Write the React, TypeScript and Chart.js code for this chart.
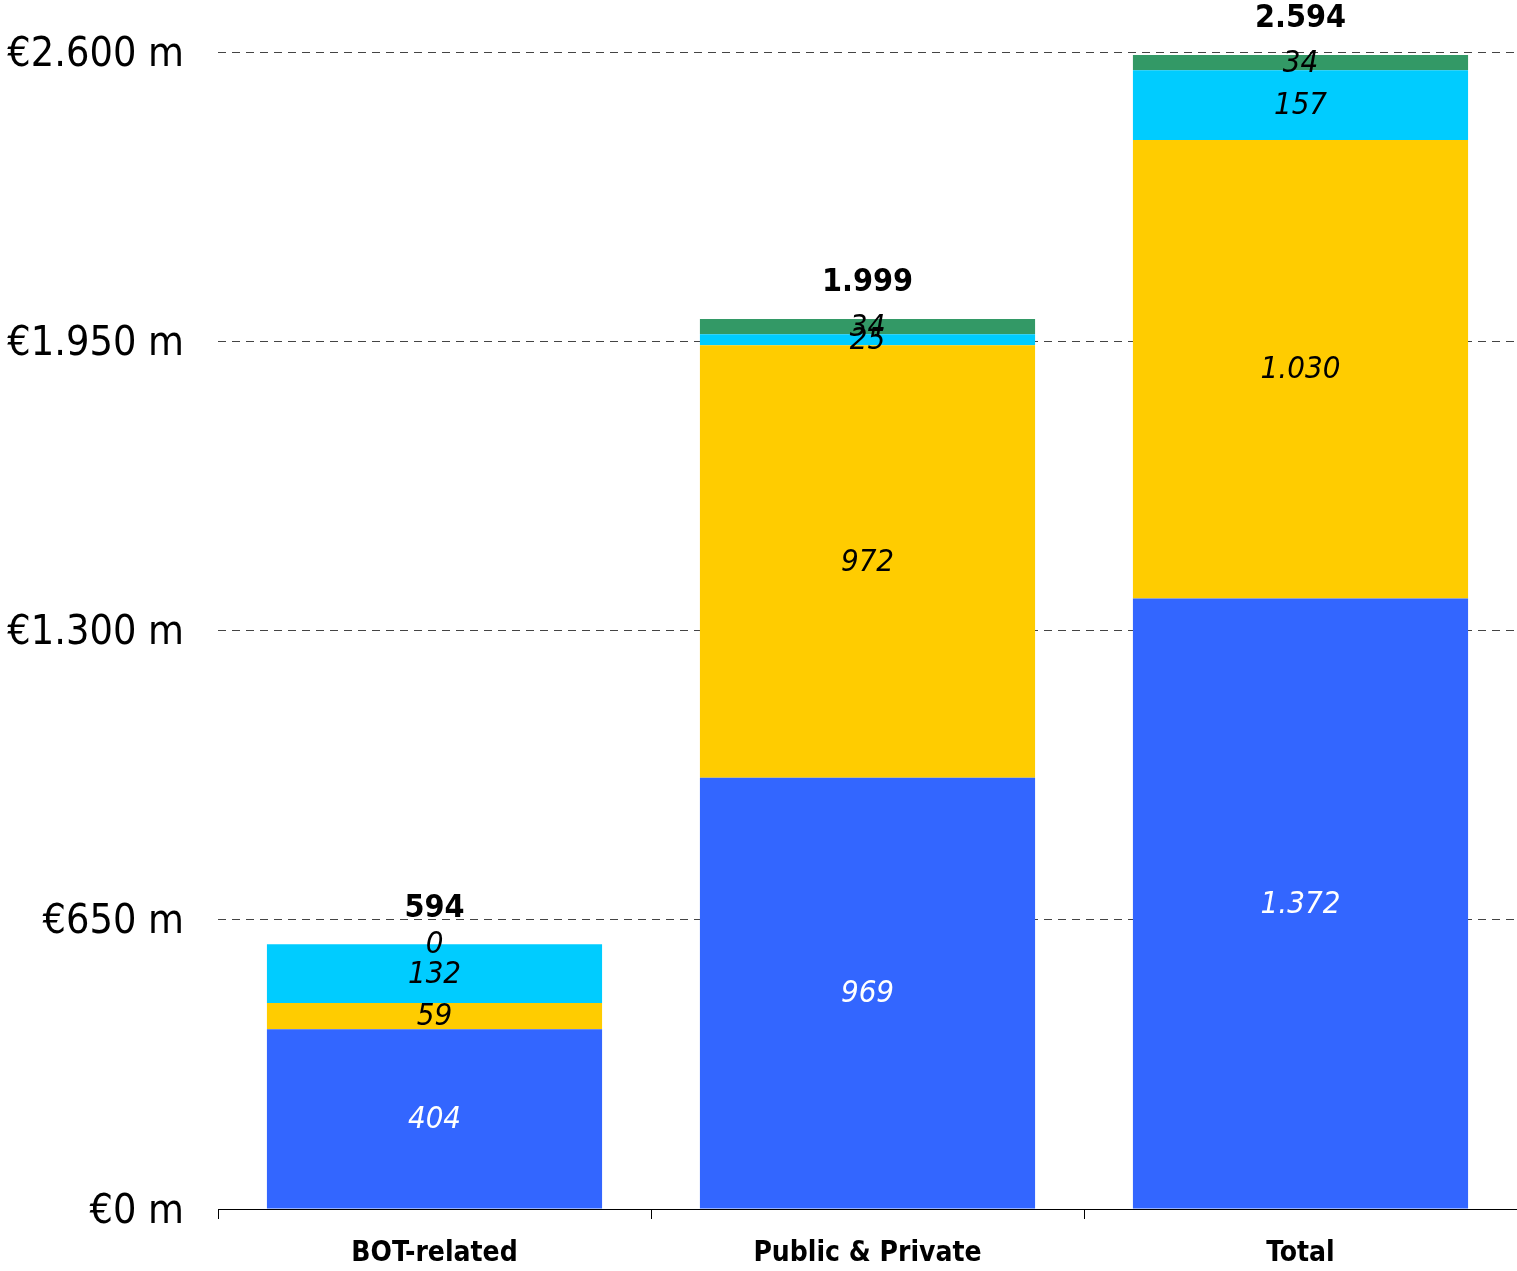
import React, { useEffect, useRef } from "react";
import { Chart, registerables } from "chart.js";

Chart.register(...registerables);

const categories = ["BOT-related", "Public & Private", "Total"];
const seriesBlue = [404, 969, 1372];
const seriesYellow = [59, 972, 1030];
const seriesCyan = [132, 25, 157];
const seriesGreen = [0, 34, 34];
const totals = [594, 1999, 2594];
const yMin = 0;
const yMax = 2600;
const yStep = 650;

const seriesColors = ["#3366FF", "#FFCC00", "#00CCFF", "#339966"];
const labelColors = ["#FFFFFF", "#000000", "#000000", "#000000"];

const FONT = '"DejaVu Sans Condensed", "DejaVu Sans", sans-serif';

function fmt(n: number): string {
  return String(n).replace(/\B(?=(\d{3})+(?!\d))/g, ".");
}

const labelPlugin = {
  id: "segmentLabels",
  afterDatasetsDraw(chart: any) {
    const ctx = chart.ctx;
    ctx.save();
    ctx.textAlign = "center";
    ctx.textBaseline = "middle";
    const n = chart.data.datasets.length;
    for (let d = 0; d < n; d++) {
      const meta = chart.getDatasetMeta(d);
      const ds = chart.data.datasets[d];
      ctx.font = `italic 31px ${FONT}`;
      ctx.fillStyle = labelColors[d];
      meta.data.forEach((el: any, i: number) => {
        const p = el.getProps(["x", "y", "base"], true);
        const cy = (p.y + p.base) / 2;
        ctx.fillText(fmt(ds.data[i]), p.x, cy + 1);
      });
    }
    const topMeta = chart.getDatasetMeta(n - 1);
    ctx.font = `bold 32px ${FONT}`;
    ctx.fillStyle = "#000000";
    topMeta.data.forEach((el: any, i: number) => {
      const p = el.getProps(["x", "y"], true);
      ctx.fillText(fmt(totals[i]), p.x, p.y - 36);
    });
    ctx.restore();
  },
};

export default function App() {
  const ref = useRef<HTMLCanvasElement | null>(null);

  useEffect(() => {
    if (!ref.current) return;
    const series = [seriesBlue, seriesYellow, seriesCyan, seriesGreen];
    const chart = new Chart(ref.current, {
      type: "bar",
      data: {
        labels: categories,
        datasets: series.map((s, k) => ({
          data: s,
          backgroundColor: seriesColors[k],
          borderWidth: 0,
          categoryPercentage: 1,
          barPercentage: 0.774,
        })),
      },
      options: {
        responsive: false,
        animation: false,
        devicePixelRatio: 1,
        layout: { padding: { top: 52, left: 0, right: 0, bottom: 0 } },
        plugins: {
          legend: { display: false },
          tooltip: { enabled: false },
        },
        scales: {
          x: {
            stacked: true,
            offset: true,
            grid: {
              display: true,
              offset: true,
              drawOnChartArea: false,
              drawTicks: true,
              tickLength: 10,
              color: "#000000",
            },
            border: { display: true, color: "#000000", width: 1 },
            ticks: {
              color: "#000000",
              padding: 18,
              font: { family: FONT, size: 28, weight: "bold" },
            },
            afterFit: (scale: any) => {
              scale.height = 62;
              scale.paddingLeft = 0;
              scale.paddingRight = 0;
            },
          },
          y: {
            stacked: true,
            min: yMin,
            max: yMax,
            grid: {
              color: "#444444",
              lineWidth: 1,
              drawTicks: false,
            },
            border: { display: false, dash: [8, 6] },
            ticks: {
              stepSize: yStep,
              color: "#000000",
              padding: 34,
              labelOffset: 3,
              font: { family: FONT, size: 41 },
              callback: (v: any) => `€${fmt(Number(v))} m`,
            },
            afterFit: (scale: any) => {
              scale.width = 218;
              scale.paddingTop = 0;
              scale.paddingBottom = 0;
            },
          },
        },
      },
      plugins: [labelPlugin],
    });
    return () => chart.destroy();
  }, []);

  return (
    <div style={{ position: "absolute", left: 0, top: 0, width: 1517, height: 1271, background: "#fff" }}>
      <canvas ref={ref} width={1517} height={1271} style={{ display: "block" }} />
    </div>
  );
}
